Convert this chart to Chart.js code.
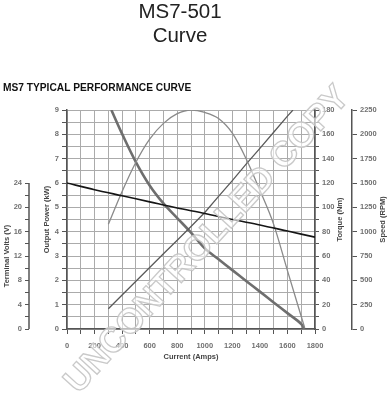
<!DOCTYPE html>
<html>
<head>
<meta charset="utf-8">
<script src="https://cdn.jsdelivr.net/npm/chart.js@4/dist/chart.umd.min.js"></script>
<style>
  html, body { margin: 0; padding: 0; background: #fff; }
  #wrap { width: 390px; height: 400px; }
</style>
</head>
<body>
<div id="wrap"><canvas id="curve"></canvas></div>
<script>
// text
const chartTitle = ["MS7-501", "Curve"];
const subTitle = "MS7 TYPICAL PERFORMANCE CURVE";
const watermark = "UNCONTROLLED COPY";

// terminal volts (V) vs current (A)
const voltsAmps = [0, 200, 400, 600, 800, 1000, 1200, 1400, 1600, 1800];
const voltsValues = [24, 22.9, 21.9, 20.9, 19.9, 19.0, 18.0, 17.1, 16.1, 15.1];

// output power (kW)
const powerAmps = [300, 400, 500, 600, 700, 800, 900, 1000, 1100, 1200, 1300, 1400, 1500, 1600, 1725];
const powerValues = [4.3, 5.65, 6.85, 7.8, 8.45, 8.85, 9.0, 8.9, 8.65, 8.05, 7.0, 5.7, 4.3, 2.4, 0.05];

// torque (Nm)
const torqueAmps = [300, 400, 500, 600, 700, 800, 900, 1000, 1100, 1200, 1300, 1400, 1500, 1600, 1640];
const torqueValues = [16.7, 28, 39.2, 50.5, 61.8, 73, 84.3, 95.8, 109, 122, 135.5, 148.5, 161.7, 175, 180];

// speed (RPM)
const speedAmps = [322, 400, 500, 600, 700, 800, 900, 1000, 1100, 1200, 1300, 1400, 1500, 1600, 1700, 1722];
const speedValues = [2250, 2005, 1715, 1475, 1290, 1140, 990, 828, 716, 605, 494, 384, 273, 163, 52, 0];

const axisTitles = {
  x: "Current (Amps)",
  yV: "Terminal Volts (V)",
  yKw: "Output Power (kW)",
  yT: "Torque (Nm)",
  yS: "Speed (RPM)"
};

const fontName = '"Liberation Sans", Arial, sans-serif';
const tickFont = { family: fontName, size: 7.5, weight: "bold" };
const tickText = "#707070";
const axisLine = "#555";
const gridLine = "#ababab";

const pts = (xs, ys) => xs.map((x, i) => ({ x: x, y: ys[i] }));

const decor = {
  id: "decor",
  afterDraw(chart) {
    const { ctx, chartArea, scales } = chart;
    ctx.save();

    // titles
    ctx.fillStyle = "#222";
    ctx.textAlign = "center";
    ctx.textBaseline = "alphabetic";
    ctx.font = "20.5px " + fontName;
    ctx.fillText(chartTitle[0], 180, 17.5);
    ctx.fillText(chartTitle[1], 180, 42);
    ctx.textAlign = "left";
    ctx.font = "bold 10.2px " + fontName;
    ctx.fillStyle = "#111";
    ctx.fillText(subTitle, 3, 90.5);

    // short volts axis line (0..24 only)
    const v = scales.yV;
    ctx.strokeStyle = axisLine;
    ctx.lineWidth = 1.5;
    ctx.beginPath();
    ctx.moveTo(v.right, v.getPixelForValue(0));
    ctx.lineTo(v.right, v.getPixelForValue(24));
    ctx.stroke();

    // axis titles
    ctx.fillStyle = "#444";
    ctx.font = "bold 7.5px " + fontName;
    ctx.textAlign = "center";
    ctx.textBaseline = "middle";
    const midY = (chartArea.top + chartArea.bottom) / 2;
    const upright = (text, x, y) => {
      ctx.save();
      ctx.translate(x, y);
      ctx.rotate(-Math.PI / 2);
      ctx.fillText(text, 0, 0);
      ctx.restore();
    };
    upright(axisTitles.yV, 7, (v.getPixelForValue(0) + v.getPixelForValue(24)) / 2);
    upright(axisTitles.yKw, 47, midY);
    upright(axisTitles.yT, 340, midY);
    upright(axisTitles.yS, 382.5, midY);
    ctx.fillText(axisTitles.x, (chartArea.left + chartArea.right) / 2, 357);

    // watermark
    ctx.translate(207.5, 240);
    ctx.rotate(-47.4 * Math.PI / 180);
    ctx.font = "bold 35px " + fontName;
    ctx.fillStyle = "rgba(255,255,255,0.6)";
    ctx.fillText(watermark, 0, 0);
    ctx.strokeStyle = "rgba(195,195,195,0.9)";
    ctx.lineWidth = 1.3;
    ctx.strokeText(watermark, 0, 0);
    ctx.restore();
  }
};

new Chart(document.getElementById("curve"), {
  type: "line",
  data: {
    datasets: [
      {
        label: "Terminal Volts",
        data: pts(voltsAmps, voltsValues),
        yAxisID: "yV",
        borderColor: "#151515",
        borderWidth: 1.6,
        tension: 0.3
      },
      {
        label: "Output Power",
        data: pts(powerAmps, powerValues),
        yAxisID: "yKw",
        borderColor: "#8a8a8a",
        borderWidth: 1.3,
        cubicInterpolationMode: "monotone"
      },
      {
        label: "Torque",
        data: pts(torqueAmps, torqueValues),
        yAxisID: "yT",
        borderColor: "#5a5a5a",
        borderWidth: 1.3,
        tension: 0
      },
      {
        label: "Speed",
        data: pts(speedAmps, speedValues),
        yAxisID: "yS",
        borderColor: "#6e6e6e",
        borderWidth: 2.6,
        tension: 0.35
      }
    ]
  },
  options: {
    responsive: true,
    maintainAspectRatio: false,
    devicePixelRatio: 1,
    animation: false,
    layout: { padding: { top: 110, bottom: 35, left: 0, right: 0 } },
    elements: { point: { radius: 0 } },
    plugins: {
      legend: { display: false },
      tooltip: { enabled: false }
    },
    scales: {
      x: {
        type: "linear",
        position: "bottom",
        min: 0,
        max: 1800,
        ticks: {
          stepSize: 100,
          autoSkip: false,
          maxRotation: 0,
          padding: 7,
          font: tickFont,
          color: tickText,
          callback: (v) => (v % 200 === 0 ? String(v) : "")
        },
        grid: { color: gridLine, tickLength: 5, tickColor: axisLine },
        border: { color: axisLine, width: 1.5 },
        afterFit: (s) => { s.height = 36; }
      },
      yKw: {
        position: "left",
        weight: 1,
        min: 0,
        max: 9,
        ticks: {
          stepSize: 0.5,
          autoSkip: false,
          padding: 3,
          font: tickFont,
          color: tickText,
          callback: (v) => (Number.isInteger(v) ? String(v) : "")
        },
        grid: { color: gridLine, tickLength: 5, tickColor: axisLine },
        border: { color: axisLine, width: 1.5 },
        afterFit: (s) => { s.width = 38; }
      },
      yV: {
        position: "left",
        weight: 2,
        min: 0,
        max: 36,
        ticks: {
          stepSize: 2,
          autoSkip: false,
          padding: 3,
          font: tickFont,
          color: tickText,
          callback: (v) => (v <= 24 && v % 4 === 0 ? String(v) : "")
        },
        grid: {
          drawOnChartArea: false,
          tickLength: 4,
          tickColor: (c) => (c.tick && c.tick.value <= 24 ? axisLine : "rgba(0,0,0,0)")
        },
        border: { display: false },
        afterFit: (s) => { s.width = 29; }
      },
      yT: {
        position: "right",
        weight: 1,
        min: 0,
        max: 180,
        ticks: {
          stepSize: 10,
          autoSkip: false,
          padding: 3,
          font: tickFont,
          color: tickText,
          callback: (v) => (v % 20 === 0 ? String(v) : "")
        },
        grid: { drawOnChartArea: false, tickLength: 4, tickColor: axisLine },
        border: { color: axisLine, width: 1.5 },
        afterFit: (s) => { s.width = 37; }
      },
      yS: {
        position: "right",
        weight: 2,
        min: 0,
        max: 2250,
        ticks: {
          stepSize: 250,
          autoSkip: false,
          padding: 3,
          font: tickFont,
          color: tickText,
          callback: (v) => String(v)
        },
        grid: { drawOnChartArea: false, tickLength: 5, tickColor: axisLine },
        border: { color: axisLine, width: 1.5 },
        afterFit: (s) => { s.width = 38; }
      }
    }
  },
  plugins: [decor]
});
</script>
</body>
</html>
